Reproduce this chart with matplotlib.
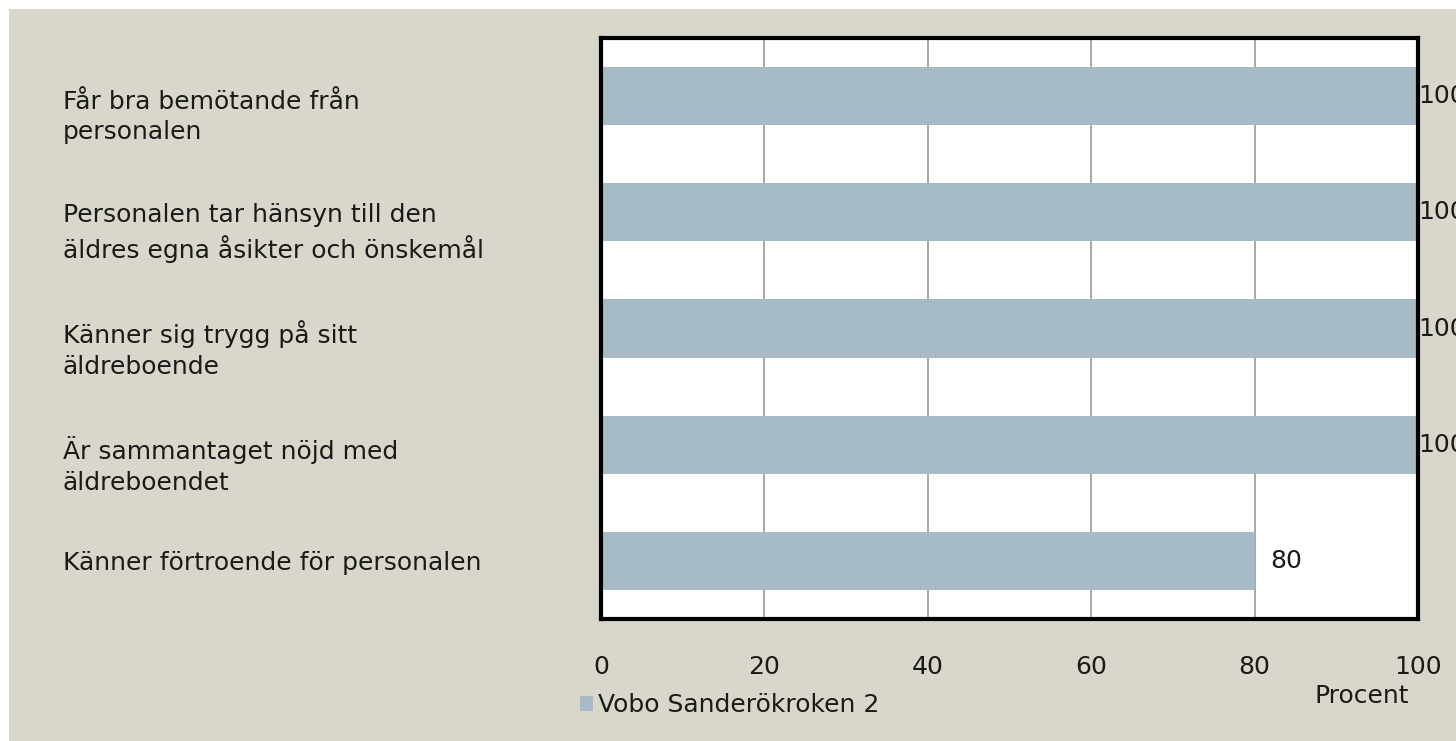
import matplotlib
matplotlib.use("Agg")
import matplotlib.pyplot as plt
from matplotlib.patches import Rectangle, Patch

categories = [
    "Får bra bemötande från\npersonalen",
    "Personalen tar hänsyn till den\näldres egna åsikter och önskemål",
    "Känner sig trygg på sitt\näldreboende",
    "Är sammantaget nöjd med\näldreboendet",
    "Känner förtroende för personalen",
]
values = [100, 100, 100, 100, 80]
series_name = "Vobo Sanderökroken 2"
xticks = [0, 20, 40, 60, 80, 100]
xlabel = "Procent"

BG = "#d9d7cb"
BAR = "#a7bbc6"
TXT = "#1a1a1a"
FS = 18
plt.rcParams["font.family"] = ["DejaVu Sans"]

fig = plt.figure(figsize=(14.56, 7.41), dpi=100)
fig.patch.set_facecolor("white")
fig.patches.append(Rectangle((9 / 1456, 0), 1, 1 - 9 / 741, transform=fig.transFigure,
                             facecolor=BG, edgecolor="none", zorder=-10))

ax = fig.add_axes([601 / 1456, 1 - 619 / 741, 817 / 1456, 581 / 741])
ax.set_facecolor("white")
ypos = list(range(len(categories)))
ax.barh(ypos, values, height=0.5, color=BAR, zorder=2)
ax.set_xlim(0, 100)
ax.set_ylim(len(categories) - 0.5, -0.5)
ax.set_xticks(xticks)
ax.set_xticklabels([str(t) for t in xticks], fontsize=FS, color=TXT)
ax.tick_params(axis="x", length=0, pad=26)
ax.set_yticks([])
ax.grid(axis="x", color="#a0a0a0", linewidth=1.3, zorder=1)
for s in ax.spines.values():
    s.set_linewidth(3)
    s.set_color("black")

# value labels (the 100s run off the right edge, as in the original)
pads = [0, 0, 0, 0, 11]
for i, v in enumerate(values):
    ax.annotate(str(v), (v, i), xytext=(pads[i], 0), textcoords="offset points",
                ha="left", va="center", fontsize=FS, color=TXT, annotation_clip=False)

# category labels on the left
for i, lab in enumerate(categories):
    nlines = lab.count("\n") + 1
    off = -15 if nlines == 2 else -1.5
    ax.annotate(lab, (63 / 1456, i), xycoords=("figure fraction", "data"),
                xytext=(0, off), textcoords="offset points", ha="left", va="center",
                fontsize=FS, color=TXT, linespacing=1.35, annotation_clip=False)

fig.text(1362 / 1456, 1 - 696 / 741, xlabel, ha="center", va="center", fontsize=FS, color=TXT)
fig.legend(handles=[Patch(facecolor=BAR, edgecolor="none", label=series_name)],
           loc="center left", bbox_to_anchor=(562 / 1456, 1 - 705 / 741), frameon=False,
           handlelength=0.55, handleheight=0.55, handletextpad=0.2, fontsize=FS,
           labelcolor=TXT, borderpad=0.2)

fig.savefig("out.png", dpi=100, facecolor=fig.get_facecolor())
